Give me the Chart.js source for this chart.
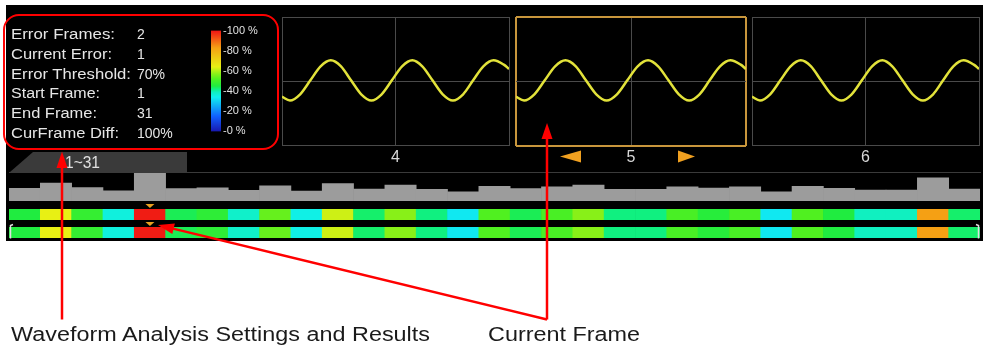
<!DOCTYPE html>
<html><head><meta charset="utf-8">
<script src="https://cdn.jsdelivr.net/npm/chart.js@4.4.1/dist/chart.umd.min.js"></script>
<style>
html,body{margin:0;padding:0;background:#fff;}
body{width:983px;height:347px;position:relative;overflow:hidden;}
#scope{position:absolute;left:6px;top:5px;width:977px;height:236px;background:#000;}
canvas{position:absolute;display:block;}
svg{position:absolute;left:0;top:0;}
</style></head><body>
<div id="scope"></div>
<canvas id="w4" width="229" height="151" style="left:281px;top:16px"></canvas>
<canvas id="w5" width="232" height="151" style="left:515px;top:16px"></canvas>
<canvas id="w6" width="229" height="151" style="left:751px;top:16px"></canvas>
<canvas id="cbar" width="50" height="118" style="left:211px;top:22px"></canvas>
<canvas id="hist" width="971" height="28" style="left:9px;top:173px"></canvas>
<canvas id="strip1" width="971" height="17" style="left:9px;top:203px"></canvas>
<canvas id="strip2" width="971" height="17" style="left:9px;top:221px"></canvas>
<svg id="ann" width="983" height="347"></svg>
<script>
// ---------- data ----------
const frameLabels = ['1','2','3','4','5','6','7','8','9','10','11','12','13','14','15','16','17','18','19','20','21','22','23','24','25','26','27','28','29','30','31'];
const frameDiff = [45,64,48,36,99,44,47,38,54,35,62,43,57,42,33,52,44,51,57,42,42,51,46,51,33,52,45,39,39,83,43];
const currentFrame = 5;
const shownFrames = ['4','5','6'];
const waveX = [0,3.5,8.0,12.5,17.0,21.5,26.0,30.4,34.9,39.4,43.9,48.4,52.9,57.4,61.8,66.3,70.8,75.3,79.8,84.2,88.7,93.2,97.7,100];
const waveY = [-0.71,-0.89,-0.60,0.05,0.70,0.98,0.70,0.05,-0.60,-0.89,-0.60,0.05,0.70,0.98,0.70,0.05,-0.60,-0.89,-0.60,0.05,0.70,0.98,0.78,0.58];
const infoLabels = ['Error Frames:','Current Error:','Error Threshold:','Start Frame:','End Frame:','CurFrame Diff:'];
const infoValues = ['2','1','70%','1','31','100%'];
const colorbarTicks = [0,20,40,60,80,100];
const frameRangeText = '1~31';
const annotationTexts = ['Waveform Analysis Settings and Results','Current Frame'];

// ---------- colour map (matches the on-screen colour bar) ----------
const cmapStops = [[0,[24,24,176]],[15,[16,96,255]],[34,[16,240,240]],[39,[16,240,192]],[42,[16,240,128]],[45,[32,236,64]],[52,[80,240,32]],[57,[136,240,24]],[64,[232,240,20]],[83,[245,160,20]],[100,[240,20,20]]];
function cmap(v){
  for(let i=1;i<cmapStops.length;i++){
    const [p1,c1]=cmapStops[i-1],[p2,c2]=cmapStops[i];
    if(v<=p2){const t=(v-p1)/(p2-p1);return 'rgb('+c1.map((c,k)=>Math.round(c+(c2[k]-c)*t)).join(',')+')';}
  }
  return 'rgb('+cmapStops[cmapStops.length-1][1].join(',')+')';
}

const base = {responsive:false,animation:false,devicePixelRatio:1,events:[],
  plugins:{legend:{display:false},tooltip:{enabled:false}}};

// ---------- waveform panels ----------
function makeWave(id,label,selected){
  const gridC='#4a4a4a', edgeC = selected ? '#c8963c' : '#4a4a4a';
  const isEdgeX = c => c.tick && (c.tick.value===0||c.tick.value===100);
  const isEdgeY = c => c.tick && (c.tick.value===-3||c.tick.value===3);
  new Chart(document.getElementById(id),{type:'line',
    data:{datasets:[{data:waveX.map((x,i)=>({x:x,y:waveY[i]})),borderColor:'#e2e23a',borderWidth:2.5,pointRadius:0,cubicInterpolationMode:'monotone',fill:false}]},
    options:Object.assign({},base,{
      layout:{padding:{left:1,right:1,top:1,bottom:0}},
      scales:{
        x:{type:'linear',min:0,max:100,ticks:{display:false,stepSize:50},border:{display:false},
           grid:{drawTicks:false,color:c=>isEdgeX(c)?edgeC:gridC,lineWidth:c=>(selected&&isEdgeX(c))?2:1},
           title:{display:true,text:label,color:'#d8d8d8',font:{size:16,family:'Liberation Sans'},padding:{top:2,bottom:0}}},
        y:{min:-3,max:3,ticks:{display:false,stepSize:3},border:{display:false},
           grid:{drawTicks:false,color:c=>isEdgeY(c)?edgeC:gridC,lineWidth:c=>(selected&&isEdgeY(c))?2:1}}
      }})
  });
}
makeWave('w4',shownFrames[0],false);
makeWave('w5',shownFrames[1],true);
makeWave('w6',shownFrames[2],false);

// ---------- colour bar ----------
new Chart(document.getElementById('cbar'),{type:'bar',
  data:{labels:[''],datasets:[{data:[100],barPercentage:1,categoryPercentage:1,borderWidth:0,
    backgroundColor:c=>{const a=c.chart.chartArea;if(!a)return '#f00';const g=c.chart.ctx.createLinearGradient(0,a.bottom,0,a.top);
      cmapStops.forEach(s=>g.addColorStop(s[0]/100,'rgb('+s[1].join(',')+')'));return g;}}]},
  options:Object.assign({},base,{layout:{padding:{top:8,bottom:8,left:0,right:0}},
    scales:{x:{display:false},
      y:{position:'right',min:0,max:100,afterBuildTicks:s=>{s.ticks=colorbarTicks.map(v=>({value:v}));},
         afterFit:s=>{s.width=40;},
         ticks:{padding:2,color:'#e0e0e0',font:{size:11,family:'Liberation Sans'},callback:v=>'-'+v+' %'},
         grid:{display:false,drawTicks:false},border:{display:false}}}})
});

// ---------- histogram ----------
new Chart(document.getElementById('hist'),{type:'bar',
  data:{labels:frameLabels,datasets:[{data:frameDiff,backgroundColor:'#9c9c9c',borderWidth:0,barPercentage:1,categoryPercentage:1}]},
  options:Object.assign({},base,{layout:{padding:0},scales:{x:{display:false},y:{display:false,min:0,max:100}}})
});

// ---------- colour strips ----------
const marker = {id:'marker',afterDatasetsDraw(chart){
  const ctx=chart.ctx, x=chart.scales.x.getPixelForValue(currentFrame-1), t=chart.chartArea.top;
  ctx.save();ctx.fillStyle='#e8a020';ctx.beginPath();ctx.moveTo(x-4.5,t-5);ctx.lineTo(x+4.5,t-5);ctx.lineTo(x,t-1);ctx.closePath();ctx.fill();ctx.restore();}};
function makeStrip(id){
  new Chart(document.getElementById(id),{type:'bar',
    data:{labels:frameLabels,datasets:[{data:frameLabels.map(()=>1),backgroundColor:frameDiff.map(cmap),borderWidth:0,barPercentage:1,categoryPercentage:1}]},
    options:Object.assign({},base,{layout:{padding:{top:6,bottom:0,left:0,right:0}},scales:{x:{display:false},y:{display:false,min:0,max:1}}}),
    plugins:[marker]});
}
makeStrip('strip1');makeStrip('strip2');

// ---------- overlay: texts and annotations ----------
const NS='http://www.w3.org/2000/svg', svg=document.getElementById('ann');
function el(tag,attrs,text){const e=document.createElementNS(NS,tag);for(const k in attrs)e.setAttribute(k,attrs[k]);if(text!==undefined)e.textContent=text;svg.appendChild(e);return e;}
// tab + separator
el('polygon',{points:'10,172 33,152 187,152 187,172',fill:'#3a3a3a'});
el('line',{x1:9,y1:172.5,x2:981,y2:172.5,stroke:'#3a3a3a','stroke-width':1});
el('text',{x:65,y:168,'font-family':'Liberation Sans','font-size':17,fill:'#e0e0e0',textLength:35,lengthAdjust:'spacingAndGlyphs'},frameRangeText);
// selection arrows near current frame label
el('polygon',{points:'560,156.5 581,150.5 581,162.5',fill:'#f0a020'});
el('polygon',{points:'695,156.5 678,150.5 678,162.5',fill:'#f0a020'});
// brackets of lower strip
el('polyline',{points:'13,224.5 10.5,225.5 10.5,238.5',fill:'none',stroke:'#e0e0e0','stroke-width':1.5});
el('polyline',{points:'976,224.5 978.5,225.5 978.5,238.5',fill:'none',stroke:'#e0e0e0','stroke-width':1.5});
// info text
const baselines=[39.3,59.3,78.7,98.3,118,137.7];
const labelWidths=[104,101,120,89,86,108];
infoLabels.forEach((t,i)=>{
  el('text',{x:11,y:baselines[i],'font-family':'Liberation Sans','font-size':14,fill:'#e6e6e6',textLength:labelWidths[i],lengthAdjust:'spacingAndGlyphs'},t);
  el('text',{x:137,y:baselines[i],'font-family':'Liberation Sans','font-size':14,fill:'#e6e6e6'},infoValues[i]);
});
// red annotations
el('rect',{x:4,y:15,width:274,height:134,rx:15,ry:15,fill:'none',stroke:'#f00','stroke-width':2});
el('line',{x1:62,y1:166,x2:62,y2:319.5,stroke:'#f00','stroke-width':2.5});
el('polygon',{points:'62,151.5 56.5,168 67.5,168',fill:'#f00'});
el('line',{x1:547,y1:137,x2:547,y2:319.5,stroke:'#f00','stroke-width':2.5});
el('polygon',{points:'547,123 541.5,139 552.5,139',fill:'#f00'});
el('line',{x1:172,y1:228.4,x2:547,y2:319.5,stroke:'#f00','stroke-width':2.5});
el('polygon',{points:'158,225 172.3,234.1 174.9,223.4',fill:'#f00'});
el('text',{x:11,y:341,'font-family':'Liberation Sans','font-size':20,fill:'#1a1a1a',textLength:419,lengthAdjust:'spacingAndGlyphs'},annotationTexts[0]);
el('text',{x:488,y:341,'font-family':'Liberation Sans','font-size':20,fill:'#1a1a1a',textLength:152,lengthAdjust:'spacingAndGlyphs'},annotationTexts[1]);
</script>
</body></html>
